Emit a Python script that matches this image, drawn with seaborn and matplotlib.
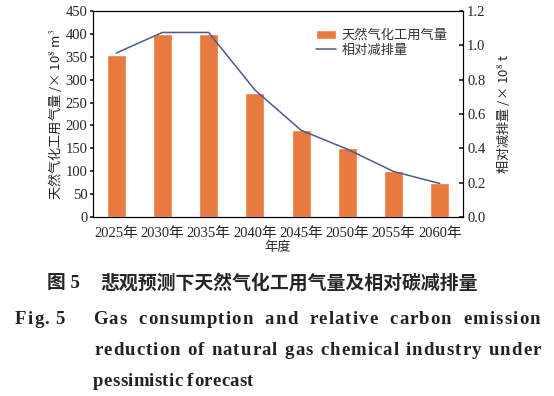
import matplotlib
matplotlib.use("Agg")
import matplotlib.pyplot as plt
import pandas as pd
import seaborn as sns

years = ["2025年", "2030年", "2035年", "2040年", "2045年", "2050年", "2055年", "2060年"]
gas_use = [353, 399, 399, 271, 191, 151, 100, 74]
reduction = [0.955, 1.075, 1.075, 0.74, 0.505, 0.395, 0.265, 0.195]

df = pd.DataFrame({"year": years, "gas": gas_use, "red": reduction})

sns.set_theme(style="ticks")
plt.rcParams["font.family"] = ["Liberation Serif", "Noto Sans CJK SC", "DejaVu Sans"]
plt.rcParams["mathtext.fontset"] = "stix"

bar_color = "#E8793F"
line_color = "#4B5B8E"
cjk = ["Noto Sans CJK SC", "DejaVu Sans"]
W, H = 554, 396

fig = plt.figure(figsize=(W / 100, H / 100), dpi=100)
ax = fig.add_axes([93 / W, 1 - 217 / H, 370 / W, 206 / H])

sns.barplot(data=df, x="year", y="gas", color=bar_color, width=0.41,
            saturation=1, ax=ax, label="天然气化工用气量")
if ax.get_legend() is not None:
    ax.get_legend().remove()
ax.set_xlim(-0.5, 7.5)
ax.set_ylim(0, 450)
ax.set_yticks(range(0, 451, 50))
ax.tick_params(axis="y", direction="out", length=2.5, labelsize=10.5, pad=1.5)
ax.tick_params(axis="x", length=0, labelsize=10.5, pad=7)
for lbl in ax.get_xticklabels():
    lbl.set_fontfamily(["Liberation Serif", "Noto Sans CJK SC"])
ax.set_xlabel("年度", fontsize=9.5, family=cjk, labelpad=1)
ax.set_ylabel("天然气化工用气量 /× 10$^8$ m$^3$", fontsize=9.5, family=cjk, labelpad=1)

ax2 = ax.twinx()
sns.lineplot(x=range(len(years)), y=reduction, color=line_color, lw=1.1,
             ax=ax2, label="相对减排量", legend=False)
ax2.set_ylim(0, 1.2)
ax2.set_yticks([0.0, 0.2, 0.4, 0.6, 0.8, 1.0, 1.2])
ax2.set_yticklabels([f"{v:.1f}" for v in ax2.get_yticks()])
ax2.tick_params(axis="y", direction="in", length=3, labelsize=10.5, pad=3)
ax2.set_ylabel("相对减排量 /× 10$^8$ t", fontsize=9.5, family=cjk, rotation=90, labelpad=6)

for a in (ax, ax2):
    for s in a.spines.values():
        s.set_linewidth(0.8)
        s.set_color("black")

h1, l1 = ax.get_legend_handles_labels()
h2, l2 = ax2.get_legend_handles_labels()
leg = ax2.legend(h1 + h2, l1 + l2, loc="upper right", frameon=False,
                 prop={"family": cjk, "size": 9.5}, handlelength=1.5,
                 handletextpad=0.4, labelspacing=0.15,
                 bbox_to_anchor=(0.99, 0.97))
for t in leg.get_texts():
    t.set_color("#333333")

# caption
fig.text(47 / W, 1 - 283 / H, "图 5", ha="left", va="center", fontsize=13.5,
         fontweight="bold", family=["Liberation Serif", "Noto Sans CJK SC"])
fig.text(100 / W, 1 - 283 / H, "悲观预测下天然气化工用气量及相对碳减排量",
         ha="left", va="center", fontsize=13.6, fontweight="bold", family=cjk)

renderer = fig.canvas.get_renderer()
cap_font = dict(fontsize=13.5, fontweight="bold", family="Liberation Serif",
                va="baseline", ha="left", color="#222222")


def spaced_line(text, x0, x1, y_px, track, gap=None):
    # letter-spaced caption line, words justified between x0 and x1
    words = []
    for w in text.split():
        arts = [fig.text(0, 1 - y_px / H, ch, **cap_font) for ch in w]
        widths = [a.get_window_extent(renderer).width for a in arts]
        words.append((arts, widths))
    totals = [sum(ws) + track * (len(ws) - 1) for _, ws in words]
    if gap is None:
        gap = (x1 - x0 - sum(totals)) / (len(words) - 1)
    x = x0
    for arts, ws in words:
        for a, w in zip(arts, ws):
            a.set_x(x / W)
            x += w + track
        x += gap - track


spaced_line("Fig. 5", 15, 66, 324, track=1.2, gap=6)
spaced_line("Gas consumption and relative carbon emission", 93, 540, 324, track=1.1)
spaced_line("reduction of natural gas chemical industry under", 94, 541, 355, track=1.1)
spaced_line("pessimistic forecast", 93, 253, 386, track=0.3, gap=5)

fig.savefig("out.png", dpi=100)
